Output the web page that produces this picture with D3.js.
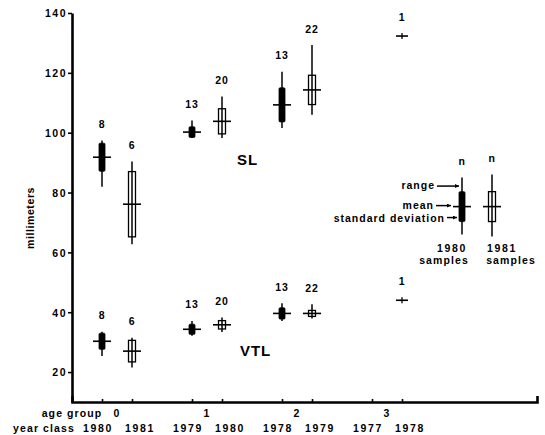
<!DOCTYPE html>
<html>
<head>
<meta charset="utf-8">
<script src="https://cdn.jsdelivr.net/npm/d3@7"></script>
<style>
  body { margin: 0; background: #fff; }
  svg text { font-family: "Liberation Sans", Arial, sans-serif; font-weight: bold; fill: #000; }
</style>
</head>
<body>
<svg id="chart" width="545" height="435"></svg>
<script>
const ageGroups   = ["0", "1", "2", "3"];
const yearClasses = ["1980", "1981", "1979", "1980", "1978", "1979", "1977", "1978"];
const yTicks      = [20, 40, 60, 80, 100, 120, 140];

// one entry per age group: [n, mean, sd, min, max]
const sl1980  = [[8, 91.8, 4.7, 81.9, 97.4], [13, 100.2, 1.8, 98.2, 104.1], [13, 109.3, 5.7, 101.6, 120.4], null];
const sl1981  = [[6, 76.1, 10.9, 62.7, 90.4], [20, 103.8, 4.2, 98.2, 112.1], [22, 114.3, 4.9, 106.0, 129.3], [1, 132.3, 0, 132.3, 132.3]];
const vtl1980 = [[8, 30.3, 2.7, 25.4, 33.5], [13, 34.3, 1.7, 32.1, 37.1], [13, 39.6, 1.9, 37.1, 43.0], null];
const vtl1981 = [[6, 27.0, 3.6, 21.5, 31.5], [20, 35.8, 1.4, 33.4, 38.2], [22, 39.6, 1.0, 37.9, 42.7], [1, 44.0, 0, 44.0, 44.0]];

// legend boxes
const legendStats  = [["n", 75.3, 5, 66.0, 85.0], ["n", 75.3, 5, 65.3, 86.0]];
const legendYears  = ["1980", "1981"];
const legendLabels = ["range", "mean", "standard deviation"];

const svg = d3.select("#chart");

// slot units: 30px each, age groups 3 slots apart
const x = d3.scaleLinear().domain([-1, 14.5]).range([72, 537]);
const y = d3.scaleLinear().domain([10, 140]).range([402, 13]);

// y axis
const yAxis = svg.append("g")
    .attr("transform", "translate(72,0)")
    .call(d3.axisLeft(y).tickValues(yTicks).tickSize(4).tickSizeOuter(0).tickPadding(1));
yAxis.select(".domain").attr("stroke-width", 2.6);
yAxis.selectAll(".tick line").attr("stroke-width", 1.6);
yAxis.selectAll(".tick text")
    .attr("font-size", "10.5px").attr("font-weight", "bold")
    .attr("font-family", "Liberation Sans, Arial, sans-serif")
    .attr("letter-spacing", "1.5px").attr("dy", "0.36em");

// x axis (small upward bumps at each year class)
const slots = yearClasses.map((d, i) => Math.floor(i / 2) * 3 + (i % 2));
const xAxis = svg.append("g")
    .attr("transform", "translate(0,402)")
    .call(d3.axisTop(x).tickValues(slots).tickSize(3).tickSizeOuter(6).tickFormat(""));
xAxis.select(".domain").attr("stroke-width", 2.6);
xAxis.selectAll(".tick line").attr("stroke-width", 1.6);

const label = (txt, px, py, opts = {}) => svg.append("text")
    .attr("x", px).attr("y", py)
    .attr("text-anchor", opts.anchor || "middle")
    .attr("font-size", (opts.size || 10.5) + "px")
    .attr("letter-spacing", (opts.ls == null ? 1.0 : opts.ls) + "px")
    .text(txt);

// category rows
label("age group", 72, 417, { ls: 1.1 });
label("year class", 44, 432, { ls: 1.1 });
ageGroups.forEach((a, i) => label(a, x(i * 3 + 0.5), 417));
// labels are pushed apart a little under each pair of boxes
yearClasses.forEach((yc, i) => label(yc, x(slots[i]) + (i % 2 ? 8 : -4), 432, { ls: 1.7 }));

// y title
svg.append("text")
    .attr("transform", "translate(34,218) rotate(-90)")
    .attr("text-anchor", "middle")
    .attr("font-size", "10.5px")
    .attr("letter-spacing", "0.6px")
    .text("millimeters");

// series labels
label("SL", x(4.85), y(89.2), { size: 15, ls: 1 });
label("VTL", x(5.12), y(25.4), { size: 15, ls: 1 });

function drawBox(stats, slot, filled) {
    if (!stats) return;
    const [n, mean, sd, lo, hi] = stats;
    const cx = x(slot);
    const g = svg.append("g");
    if (n !== 1) {
        g.append("line")
            .attr("x1", cx).attr("x2", cx)
            .attr("y1", y(hi)).attr("y2", y(lo))
            .attr("stroke", "#000").attr("stroke-width", 1.5);
        const w = filled ? 6 : 7;
        g.append("rect")
            .attr("x", cx - w / 2).attr("width", w)
            .attr("y", y(mean + sd)).attr("height", y(mean - sd) - y(mean + sd))
            .attr("rx", filled ? 1.2 : 0)
            .attr("fill", filled ? "#000" : "none")
            .attr("stroke", "#000").attr("stroke-width", filled ? 0.8 : 1.3);
        g.append("line")
            .attr("x1", cx - 9).attr("x2", cx + 9)
            .attr("y1", y(mean)).attr("y2", y(mean))
            .attr("stroke", "#000").attr("stroke-width", 1.6);
    } else {
        // single fish: a small cross
        g.append("line")
            .attr("x1", cx - 6).attr("x2", cx + 6)
            .attr("y1", y(mean)).attr("y2", y(mean))
            .attr("stroke", "#000").attr("stroke-width", 1.6);
        g.append("line")
            .attr("x1", cx).attr("x2", cx)
            .attr("y1", y(mean) - 3).attr("y2", y(mean) + 3)
            .attr("stroke", "#000").attr("stroke-width", 1.3);
    }
    label(n, cx, y(hi) - (n === 1 ? 15 : 12.5), { size: 10.5, ls: 0.8 });
}

ageGroups.forEach((a, i) => {
    drawBox(sl1980[i], i * 3, true);
    drawBox(sl1981[i], i * 3 + 1, false);
    drawBox(vtl1980[i], i * 3, true);
    drawBox(vtl1981[i], i * 3 + 1, false);
});

// legend
legendStats.forEach((s, i) => {
    drawBox(s, 12 + i, i === 0);
});
label(legendYears[0], x(12) - 10, 252, { ls: 1.7 });
label("samples", x(12) - 18, 264, { ls: 1.1 });
label(legendYears[1], x(13) + 10, 252, { ls: 1.7 });
label("samples", x(13) + 19, 264, { ls: 1.1 });

// arrows
svg.append("defs").append("marker")
    .attr("id", "arr").attr("viewBox", "0 0 10 10")
    .attr("refX", 10).attr("refY", 5)
    .attr("markerWidth", 5).attr("markerHeight", 4)
    .attr("markerUnits", "userSpaceOnUse")
    .attr("orient", "auto")
    .append("path").attr("d", "M0,0L10,5L0,10Z").attr("fill", "#000");

const lg = legendStats[0];
const arrowRows = [
    { t: legendLabels[0], ty: 189, ay: y(lg[4]) + 8.5, x0: 437, x1: 459 },
    { t: legendLabels[1], ty: 208.5, ay: y(lg[1]) - 1, x0: 436, x1: 451 },
    { t: legendLabels[2], ty: 221.5, ay: y(lg[1] - lg[2]) - 4, x0: 447, x1: 457 }
];
arrowRows.forEach(r => {
    label(r.t, r.x0 - 2, r.ty, { anchor: "end", ls: 1.0 });
    svg.append("line")
        .attr("x1", r.x0).attr("x2", r.x1)
        .attr("y1", r.ay).attr("y2", r.ay)
        .attr("stroke", "#000").attr("stroke-width", 1.5)
        .attr("marker-end", "url(#arr)");
});
</script>
</body>
</html>
